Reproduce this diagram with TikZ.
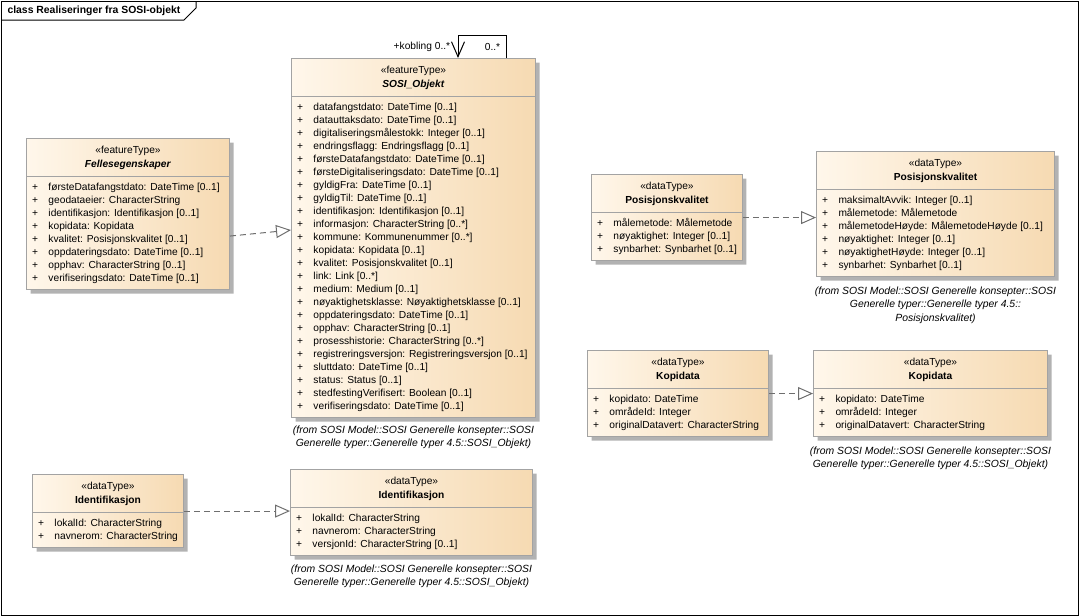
\documentclass[tikz,border=0pt]{standalone}
\usepackage{fontspec}
\setmainfont{Liberation Sans}
\usepackage{xcolor}
\usepackage{tikz}
\usetikzlibrary{arrows.meta, positioning, shapes.multipart, shadows}

\definecolor{boxleft}{HTML}{FFF7EB}
\definecolor{boxright}{HTML}{F6DAB2}
\definecolor{boxline}{HTML}{A3A3A3}
\definecolor{shadowgray}{HTML}{B2B2B2}
\definecolor{linkgray}{HTML}{6E6E6E}

\begin{document}
\begin{tikzpicture}[
  x=1pt, y=-1pt,
  font=\fontsize{10.2}{13}\selectfont,
  umlclass/.style={rectangle split, rectangle split parts=2, rectangle split part align={center,left},
    draw=boxline, line width=1pt, left color=boxleft, right color=boxright, anchor=north west,
    inner xsep=5.5pt, inner ysep=4pt,
    drop shadow={shadow xshift=4pt, shadow yshift=-4pt, fill=shadowgray, opacity=1}},
  fromnote/.style={align=center, font=\fontsize{10.4}{13.5}\selectfont\itshape},
  realize/.style={draw=linkgray, line width=1pt, dash pattern=on 6pt off 4pt, -{Triangle[open, length=15pt, width=13pt]}},
  selflink/.style={draw=black, line width=1pt, -{Straight Barb[length=15pt, width=13pt]}}
  ]

\useasboundingbox (0,0) rectangle (1080,616);

% Frame
\draw[line width=1pt] (1,1) rectangle (1078,615);
\draw[line width=1pt] (1,20) -- (184,20) -- (196,8) -- (196,1);
\node[anchor=west, font=\fontsize{10.4}{13}\selectfont\bfseries] (title) at (4,11) {class Realiseringer fra SOSI-objekt};

% Nodes
\node[umlclass, minimum width=244pt] (sosi) at (291,58) {\def\arraystretch{1.12}\begin{tabular}{@{}c@{}}«featureType»\\ \textbf{\textit{SOSI\_Objekt}}\end{tabular}
\nodepart{second}\begin{tabular}{@{}p{16.5pt}@{}l@{}}
+ & datafangstdato: DateTime [0..1]\\
+ & datauttaksdato: DateTime [0..1]\\
+ & digitaliseringsmålestokk: Integer [0..1]\\
+ & endringsflagg: Endringsflagg [0..1]\\
+ & førsteDatafangstdato: DateTime [0..1]\\
+ & førsteDigitaliseringsdato: DateTime [0..1]\\
+ & gyldigFra: DateTime [0..1]\\
+ & gyldigTil: DateTime [0..1]\\
+ & identifikasjon: Identifikasjon [0..1]\\
+ & informasjon: CharacterString [0..*]\\
+ & kommune: Kommunenummer [0..*]\\
+ & kopidata: Kopidata [0..1]\\
+ & kvalitet: Posisjonskvalitet [0..1]\\
+ & link: Link [0..*]\\
+ & medium: Medium [0..1]\\
+ & nøyaktighetsklasse: Nøyaktighetsklasse [0..1]\\
+ & oppdateringsdato: DateTime [0..1]\\
+ & opphav: CharacterString [0..1]\\
+ & prosesshistorie: CharacterString [0..*]\\
+ & registreringsversjon: Registreringsversjon [0..1]\\
+ & sluttdato: DateTime [0..1]\\
+ & status: Status [0..1]\\
+ & stedfestingVerifisert: Boolean [0..1]\\
+ & verifiseringsdato: DateTime [0..1]
\end{tabular}};

\node[umlclass, minimum width=203pt] (felles) at (26,138) {\def\arraystretch{1.12}\begin{tabular}{@{}c@{}}«featureType»\\ \textbf{\textit{Fellesegenskaper}}\end{tabular}
\nodepart{second}\begin{tabular}{@{}p{16.5pt}@{}l@{}}
+ & førsteDatafangstdato: DateTime [0..1]\\
+ & geodataeier: CharacterString\\
+ & identifikasjon: Identifikasjon [0..1]\\
+ & kopidata: Kopidata\\
+ & kvalitet: Posisjonskvalitet [0..1]\\
+ & oppdateringsdato: DateTime [0..1]\\
+ & opphav: CharacterString [0..1]\\
+ & verifiseringsdato: DateTime [0..1]
\end{tabular}};

\node[umlclass, minimum width=150pt] (posL) at (591,174) {\def\arraystretch{1.12}\begin{tabular}{@{}c@{}}«dataType»\\ \textbf{Posisjonskvalitet}\end{tabular}
\nodepart{second}\begin{tabular}{@{}p{16.5pt}@{}l@{}}
+ & målemetode: Målemetode\\
+ & nøyaktighet: Integer [0..1]\\
+ & synbarhet: Synbarhet [0..1]
\end{tabular}};

\node[umlclass, minimum width=238pt] (posR) at (816,151) {\def\arraystretch{1.12}\begin{tabular}{@{}c@{}}«dataType»\\ \textbf{Posisjonskvalitet}\end{tabular}
\nodepart{second}\begin{tabular}{@{}p{16.5pt}@{}l@{}}
+ & maksimaltAvvik: Integer [0..1]\\
+ & målemetode: Målemetode\\
+ & målemetodeHøyde: MålemetodeHøyde [0..1]\\
+ & nøyaktighet: Integer [0..1]\\
+ & nøyaktighetHøyde: Integer [0..1]\\
+ & synbarhet: Synbarhet [0..1]
\end{tabular}};

\node[umlclass, minimum width=181pt] (kopL) at (587,350) {\def\arraystretch{1.12}\begin{tabular}{@{}c@{}}«dataType»\\ \textbf{Kopidata}\end{tabular}
\nodepart{second}\begin{tabular}{@{}p{16.5pt}@{}l@{}}
+ & kopidato: DateTime\\
+ & områdeId: Integer\\
+ & originalDatavert: CharacterString
\end{tabular}};

\node[umlclass, minimum width=234pt] (kopR) at (813,350) {\def\arraystretch{1.12}\begin{tabular}{@{}c@{}}«dataType»\\ \textbf{Kopidata}\end{tabular}
\nodepart{second}\begin{tabular}{@{}p{16.5pt}@{}l@{}}
+ & kopidato: DateTime\\
+ & områdeId: Integer\\
+ & originalDatavert: CharacterString
\end{tabular}};

\node[umlclass, minimum width=151pt] (idL) at (32,474) {\def\arraystretch{1.12}\begin{tabular}{@{}c@{}}«dataType»\\ \textbf{Identifikasjon}\end{tabular}
\nodepart{second}\begin{tabular}{@{}p{16.5pt}@{}l@{}}
+ & lokalId: CharacterString\\
+ & navnerom: CharacterString
\end{tabular}};

\node[umlclass, minimum width=242pt] (idR) at (290,469) {\def\arraystretch{1.12}\begin{tabular}{@{}c@{}}«dataType»\\ \textbf{Identifikasjon}\end{tabular}
\nodepart{second}\begin{tabular}{@{}p{16.5pt}@{}l@{}}
+ & lokalId: CharacterString\\
+ & navnerom: CharacterString\\
+ & versjonId: CharacterString [0..1]
\end{tabular}};

% Notes
\node[fromnote, below=4pt of sosi] (sosinote) {(from SOSI Model::SOSI Generelle konsepter::SOSI\\Generelle typer::Generelle typer 4.5::SOSI\_Objekt)};
\node[fromnote, below=6pt of posR] (posnote) {(from SOSI Model::SOSI Generelle konsepter::SOSI\\Generelle typer::Generelle typer 4.5::\\Posisjonskvalitet)};
\node[fromnote, below=6pt of kopR] (kopnote) {(from SOSI Model::SOSI Generelle konsepter::SOSI\\Generelle typer::Generelle typer 4.5::SOSI\_Objekt)};
\node[fromnote, below=5pt of idR] (idnote) {(from SOSI Model::SOSI Generelle konsepter::SOSI\\Generelle typer::Generelle typer 4.5::SOSI\_Objekt)};

% Edges
\draw[realize] ([yshift=-22pt]felles.east) -- ([yshift=8pt]sosi.west);
\draw[realize] (posL.east) -- (posR.west |- posL.east);
\draw[realize] (kopL.east) -- (kopR.west |- kopL.east);
\draw[realize] (idL.east) -- (idR.west |- idL.east);

% Self association
\draw[selflink] (sosi.north east) ++(-30,0) -- ++(0,-23) node[pos=0.5, left=2pt] {0..*}
  -- ++(-48,0) -- ++(0,23) node[pos=0.5, left=4pt] {+kobling 0..*};

\end{tikzpicture}
\end{document}
